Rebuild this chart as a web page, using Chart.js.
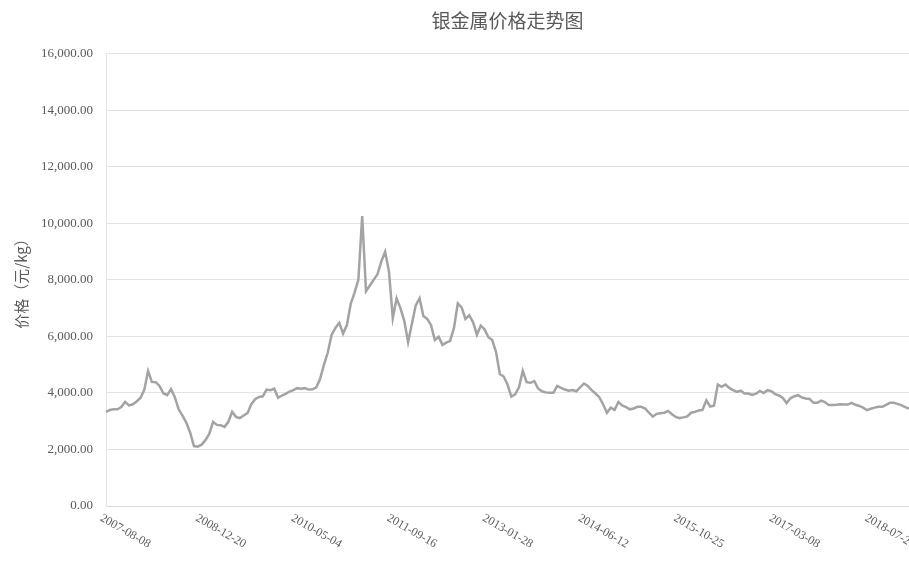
<!DOCTYPE html>
<html lang="zh">
<head>
  <meta charset="UTF-8">
  <title>银金属价格走势图</title>
  <script src="https://cdn.jsdelivr.net/npm/chart.js"></script>
  <style>
    body { margin: 0; background: #fff; }
  </style>
</head>
<body>
  <canvas id="priceChart" width="909" height="561"></canvas>

  <script>
    // one point every 20 days, starting 2007-08-08
    const startDate = '2007-08-08';
    const stepDays = 20;

    // labels shown under the x axis (every 500 days)
    const xTickLabels = ['2007-08-08', '2008-12-20', '2010-05-04', '2011-09-16', '2013-01-28',
      '2014-06-12', '2015-10-25', '2017-03-08', '2018-07-21'];

    // price in 元/kg
    const prices = [
      3330, 3400, 3425, 3420, 3500, 3685, 3560, 3600, 3700, 3820,
      4100, 4780, 4390, 4380, 4250, 3990, 3920, 4135, 3850, 3420,
      3200, 2950, 2600, 2120, 2100, 2170, 2330, 2550, 2980, 2870,
      2860, 2800, 2980, 3330, 3155, 3110, 3200, 3285, 3600, 3780,
      3860, 3880, 4120, 4100, 4150, 3830, 3910, 3970, 4050, 4100,
      4170, 4150, 4170, 4120, 4130, 4200, 4500, 5000, 5430, 6050,
      6300, 6480, 6100, 6400, 7150, 7550, 8000, 10260, 7600, 7800,
      8000, 8200, 8650, 9000, 8300, 6650, 7345, 7000, 6550, 5800,
      6450, 7100, 7350, 6720, 6620, 6400, 5870, 5985, 5700, 5780,
      5840, 6300, 7170, 7030, 6620, 6750, 6500, 6060, 6380, 6250,
      5970, 5870, 5450, 4670, 4580, 4300, 3870, 3950, 4200, 4780,
      4380, 4360, 4420, 4160, 4060, 4020, 4005, 4005, 4250, 4180,
      4120, 4080, 4100, 4060, 4200, 4335, 4250, 4100, 3980, 3850,
      3600, 3300, 3480, 3400, 3680, 3560, 3500, 3420, 3450, 3510,
      3510, 3450, 3300, 3160, 3260, 3285, 3300, 3365, 3250, 3150,
      3110, 3135, 3170, 3300, 3330, 3380, 3400, 3740, 3520, 3550,
      4300, 4215, 4300, 4180, 4100, 4040, 4080, 3980, 3980, 3930,
      3975, 4070, 4000, 4100, 4060, 3960, 3910, 3820, 3640, 3810,
      3885, 3920, 3840, 3805, 3790, 3650, 3650, 3730, 3680, 3570,
      3570, 3580, 3600, 3590, 3590, 3650, 3580, 3540, 3480, 3390,
      3440, 3480, 3510, 3510, 3580, 3650, 3650, 3615, 3570, 3500,
      3450
    ];

    // category labels: one date per value
    const dates = [];
    const d0 = new Date(startDate + 'T00:00:00Z');
    for (let i = 0; i < prices.length; i++) {
      const d = new Date(d0.getTime() + i * stepDays * 86400000);
      dates.push(d.toISOString().slice(0, 10));
    }

    const textColor = '#595959';
    const tickFont = 'Liberation Serif';

    // draws the x labels slanting down to the right, starting at the tick
    const slantedLabels = {
      id: 'slantedLabels',
      afterDraw(chart) {
        const ctx = chart.ctx;
        const xScale = chart.scales.x;
        ctx.save();
        ctx.fillStyle = textColor;
        ctx.font = '12px "' + tickFont + '"';
        ctx.textAlign = 'left';
        ctx.textBaseline = 'top';
        xTickLabels.forEach(label => {
          const idx = dates.indexOf(label);
          if (idx < 0) return;
          const x = xScale.getPixelForValue(idx);
          ctx.save();
          ctx.translate(x - 2, xScale.top + 6);
          ctx.rotate(Math.PI / 6);
          ctx.fillText(label, 0, 0);
          ctx.restore();
        });
        ctx.restore();
      }
    };

    const ctx = document.getElementById('priceChart').getContext('2d');
    new Chart(ctx, {
      type: 'line',
      data: {
        labels: dates,
        datasets: [{
          label: '价格',
          data: prices,
          borderColor: '#a3a3a3',
          borderWidth: 2.5,
          pointRadius: 0,
          tension: 0,
          fill: false
        }]
      },
      options: {
        responsive: false,
        animation: false,
        layout: { padding: { left: 0, right: 0, top: 0, bottom: 0 } },
        plugins: {
          legend: { display: false },
          tooltip: { enabled: false },
          title: {
            display: true,
            text: '银金属价格走势图',
            fullSize: false,
            color: textColor,
            font: { family: 'Noto Sans CJK SC', size: 19, weight: 'normal' },
            padding: { top: 9, bottom: 22 }
          }
        },
        scales: {
          x: {
            grid: { display: false },
            border: { display: true, color: '#d9d9d9', width: 1 },
            ticks: { display: false },
            afterFit(scale) { scale.height = 55; }
          },
          y: {
            min: 0,
            max: 16000,
            grid: { color: '#e3e3e3', lineWidth: 1, drawTicks: false },
            border: { display: true, color: '#e3e3e3' },
            ticks: {
              stepSize: 2000,
              padding: 13,
              color: textColor,
              font: { family: tickFont, size: 13 },
              callback: v => v.toLocaleString('en-US', { minimumFractionDigits: 2, maximumFractionDigits: 2 })
            },
            title: {
              display: true,
              text: '价格（元/kg）',
              color: textColor,
              font: { family: 'Noto Sans CJK SC', size: 15 },
              padding: { top: 12, bottom: 0 }
            },
            afterFit(scale) { scale.width = 106; }
          }
        }
      },
      plugins: [slantedLabels]
    });
  </script>
</body>
</html>
